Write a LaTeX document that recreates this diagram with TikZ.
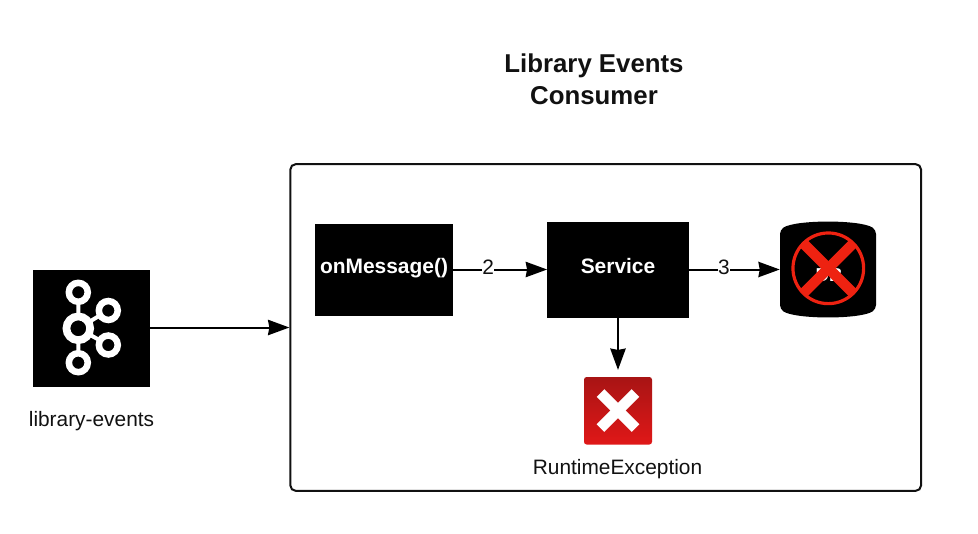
\documentclass[tikz,border=0pt]{standalone}
\usepackage{fontspec}
\setmainfont{Liberation Sans}
\usetikzlibrary{arrows.meta,shadings}
\definecolor{xred}{HTML}{EE2211}
\definecolor{icontop}{HTML}{A81414}
\definecolor{iconbot}{HTML}{E01818}
\definecolor{ink}{HTML}{111111}
\newcommand{\boxtext}[1]{\raisebox{-2.7pt}[0pt][0pt]{#1}}
\tikzset{
  x=0.75pt,y=-0.75pt,
  blackbox/.style={fill=black,draw=black,inner sep=0pt,text=white,font=\bfseries\fontsize{15.7pt}{18pt}\selectfont},
  label/.style={inner sep=0pt,text=ink,font=\fontsize{15.65pt}{18pt}\selectfont},
  conn/.style={draw=black,line width=1.5pt,-{Stealth[length=16pt,width=11.5pt,inset=1pt]}},
  step label/.style={fill=white,inner sep=0pt,yshift=1.5pt,text=ink,font=\fontsize{15.65pt}{18pt}\selectfont},
  hubring/.style={draw=white,line width=5.8pt,fill=black},
  ring/.style={draw=white,line width=4.9pt,fill=black},
  spoke/.style={draw=white,line width=3pt},
  crossbar/.style={draw=xred,line width=7.8pt},
}
\begin{document}
\begin{tikzpicture}
\useasboundingbox (0,0) rectangle (978,533);
\fill[white] (0,0) rectangle (978,533);
\node[inner sep=0pt,align=center,text=ink,font=\bfseries\fontsize{19.35pt}{24pt}\selectfont] (title) at (594,79.5) {Library Events\\Consumer};
\node[draw=ink,line width=1.5pt,rounded corners=4pt,minimum width=473pt,minimum height=245pt,inner sep=0pt] (consumer) at (605.7,327.5) {};
\node[blackbox,minimum width=87pt,minimum height=87pt] (kafka) at (91.5,328.5) {};
\node[label] (topic) at (91.5,421) {library-events};
\node[blackbox,minimum width=103pt,minimum height=68pt] (msg) at (384,269.5) {\boxtext{onMessage()}};
\node[blackbox,minimum width=106pt,minimum height=71pt] (svc) at (618,269.5) {\boxtext{Service}};
% database
\node[minimum width=72pt,minimum height=71pt,inner sep=0pt] (db) at (828,269.5) {};
\fill[black,rounded corners=3pt] (780,230) .. controls (795,219.5) and (861,219.5) .. (876,230) -- (876,309) .. controls (861,319.5) and (795,319.5) .. (780,309) -- cycle;
\node[text=white,inner sep=0pt,font=\bfseries\fontsize{14pt}{16pt}\selectfont] (dblabel) at (829,275) {DB};
\coordinate (dbc) at (828.3,268.3);
\node[circle,draw=xred,line width=2.4pt,minimum size=53pt,inner sep=0pt] (nope) at (dbc) {};
\begin{scope}
\clip (dbc) circle[radius=27pt];
\draw[crossbar] (796,236) -- (860.6,300.6);
\draw[crossbar] (860.6,236) -- (796,300.6);
\end{scope}
% kafka icon
\coordinate (hub) at (78.3,328.3);
\coordinate (kt) at (78.3,292.3);
\coordinate (kb) at (78.3,362.7);
\coordinate (ku) at (108.3,310.5);
\coordinate (kd) at (108.3,345);
\draw[spoke] (hub) -- (kt) (hub) -- (kb) (hub) -- (ku) (hub) -- (kd);
\draw[hubring] (hub) circle[radius=8.9pt];
\foreach \c in {kt,kb,ku,kd}
  \draw[ring] (\c) circle[radius=7.1pt];
% red icon
\node[minimum width=50.5pt,minimum height=50.5pt,inner sep=0pt] (icon) at (618,410.5) {};
\shade[top color=icontop,bottom color=iconbot,rounded corners=2pt] (584,377) rectangle (652,444.5);
\draw[white,line width=8pt] (600.5,393) -- (635.5,428);
\draw[white,line width=8pt] (635.5,393) -- (600.5,428);
\node[label] (err) at (617.5,469) {RuntimeException};
% connectors
\draw[conn] (kafka.east |- consumer.west) -- (consumer.west);
\draw[conn] (msg.east) -- node[step label,pos=0.375] (two) {2} (svc.west);
\draw[conn] (svc.east) -- node[step label,pos=0.385] (three) {3} (db.west);
\draw[conn,shorten >=5pt] (svc.south) -- (icon.north);
\end{tikzpicture}
\end{document}
